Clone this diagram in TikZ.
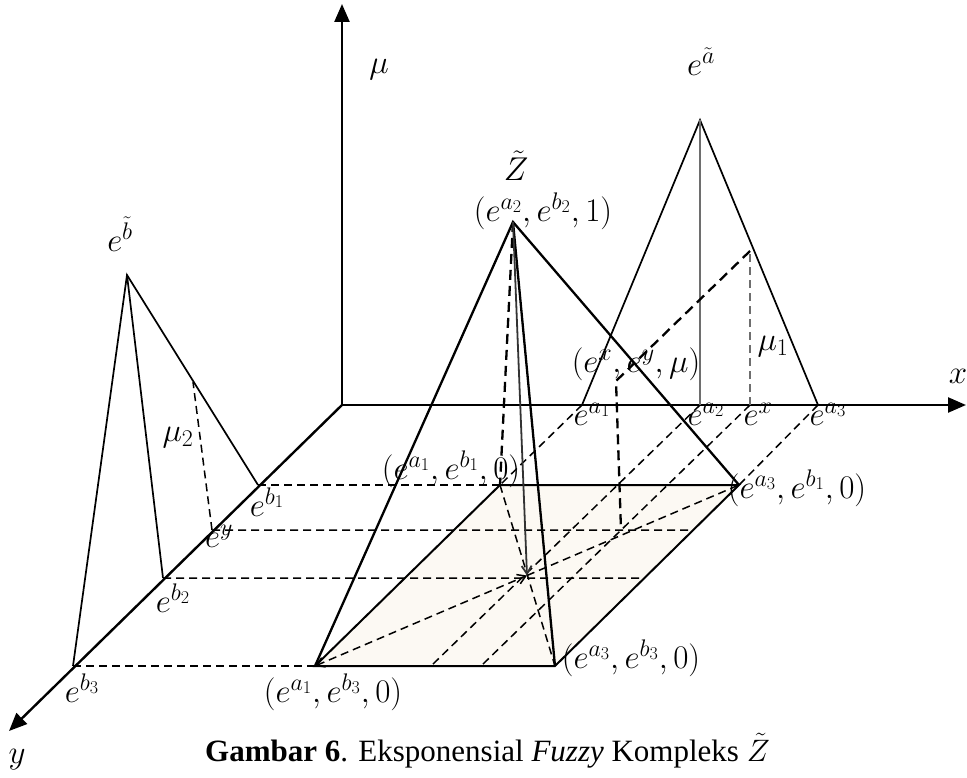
\RequirePackage{fix-cm}
\documentclass[tikz,border=0pt]{standalone}
\usepackage{fontspec}
\setmainfont{Liberation Serif}
\usetikzlibrary{arrows.meta,calc}
\DeclareMathSizes{33}{33}{24}{18}
\DeclareMathSizes{31}{31}{22}{17}
\definecolor{planefill}{HTML}{FCF9F3}
\definecolor{guidegray}{HTML}{6E6E6E}
\definecolor{centerline}{HTML}{333333}

\begin{document}
\begin{tikzpicture}[
    x=1pt, y=-1pt,
    font=\fontsize{33}{38}\selectfont,
    every node/.style={inner sep=0pt},
    coordaxis/.style={line width=2.4pt, -{Triangle[length=18pt,width=15pt]}},
    pyredge/.style={line width=2.3pt},
    planeedge/.style={line width=2pt},
    fuzzyedge/.style={line width=1.7pt},
    guide/.style={dash pattern=on 8pt off 5pt, line width=1.5pt},
    thickguide/.style={dash pattern=on 10pt off 6pt, line width=2.3pt},
    grayguide/.style={dash pattern=on 8pt off 5pt, line width=1.5pt, draw=guidegray},
    barb/.style={-{Straight Barb[length=8pt,width=10pt]}},
    biarrow/.style={{Straight Barb[length=8pt,width=10pt]}-{Straight Barb[length=8pt,width=10pt]}},
]

\useasboundingbox (0,0) rectangle (967,778);

% =============================================================
% POINTS
% =============================================================
\coordinate (O) at (342,405);
\coordinate (muTop) at (342,4);
\coordinate (xTip) at (966,405);
\coordinate (yTip) at (9,731);

% y axis
\coordinate (b1) at (258,485);
\coordinate (ey) at (212,530);
\coordinate (b2) at (163,578);
\coordinate (b3) at (73,666);
\coordinate (bApex) at (127,275);
\coordinate (mu2Top) at (193,382);

% x axis
\coordinate (a1) at (582,405);
\coordinate (a2) at (700,405);
\coordinate (ex) at (750,405);
\coordinate (a3) at (818,405);
\coordinate (aApex) at (700,120);
\coordinate (mu1Top) at (750,251);

% base plane and pyramid
\coordinate (Q11) at (500,485);
\coordinate (Q31) at (739,485);
\coordinate (Q33) at (555,666);
\coordinate (Q13) at (315,666);
\coordinate (C) at (527,575.5);
\coordinate (P) at (513,222);
\coordinate (eyEnd) at ($(Q31)!0.249!(Q33)$);
\coordinate (b2End) at ($(Q31)!0.514!(Q33)$);
\coordinate (a2End) at (431,666);
\coordinate (exEnd) at (481,666);
\coordinate (exy0) at (621,530);
\coordinate (exyMu) at (616,381);

% =============================================================
% BASE PLANE
% =============================================================
\fill[planefill] (Q13) -- (Q11) -- (Q31) -- (Q33) -- cycle;

% guides from the axes
\draw[guide] (b1) -- (Q11);
\draw[guide] (ey) -- (eyEnd);
\draw[guide] (b2) -- (b2End);
\draw[guide] (b3) -- (Q13);
\draw[guide] (a1) -- (Q11);
\draw[guide] (a2) -- (a2End);
\draw[guide] (ex) -- (exEnd);
\draw[guide] (a3) -- (Q31);

% diagonals
\draw[guide, biarrow] (Q13) -- (C);
\draw[guide] (C) -- (Q31);
\draw[guide] (Q11) -- (Q33);

\draw[planeedge] (Q13) -- (Q11) -- (Q31) -- (Q33) -- cycle;

% =============================================================
% AXES
% =============================================================
\draw[coordaxis] (O) -- (muTop);
\draw[coordaxis] (O) -- (xTip);
\draw[coordaxis] (O) -- (yTip);

% =============================================================
% FUZZY NUMBERS ON THE AXES
% =============================================================
\draw[fuzzyedge] (b3) -- (bApex) -- (b1);
\draw[fuzzyedge] (bApex) -- (b2);
\draw[guide] (ey) -- (mu2Top);

\draw[fuzzyedge] (a1) -- (aApex) -- (a3);
\draw[fuzzyedge, draw=guidegray] (aApex) -- (a2);
\draw[grayguide] (ex) -- (mu1Top);

% point (e^x, e^y, mu)
\draw[thickguide] (mu1Top) -- (exyMu) -- (exy0);

% =============================================================
% PYRAMID
% =============================================================
\draw[thickguide] (P) -- (Q11);
\draw[pyredge] (Q13) -- (P) -- (Q31);
\draw[pyredge] (P) -- (Q33);
\draw[line width=1.8pt, draw=centerline, barb] (P) -- (C);

% =============================================================
% LABELS
% =============================================================
\node (muLbl) at (379,70) {$\mu$};
\node (xLbl) at (958,376) {$x$};
\node (yLbl) at (17,760) {$y$};
\node (bLbl) at (120,234) {$e^{\tilde b}$};
\node (aLbl) at (701,62) {$e^{\tilde a}$};
\node (zLbl) at (516,166) {$\tilde Z$};
\node (pLbl) at (543,211) {$(e^{a_2},e^{b_2},1)$};
\node (exyLbl) at (636,364) {$(e^{x},e^{y},\mu)$};
\node (mu1Lbl) at (773,347) {$\mu_1$};
\node (mu2Lbl) at (178,438) {$\mu_2$};

\node (a1Lbl) at (592,414) {$e^{a_1}$};
\node (a2Lbl) at (706,414) {$e^{a_2}$};
\node (exLbl) at (758,414) {$e^{x}$};
\node (a3Lbl) at (828,414) {$e^{a_3}$};

\node (b1Lbl) at (267,502) {$e^{b_1}$};
\node (eyLbl) at (219,536) {$e^{y}$};
\node (b2Lbl) at (173,598) {$e^{b_2}$};
\node (b3Lbl) at (82,688) {$e^{b_3}$};

\node (q11Lbl) at (451,469) {$(e^{a_1},e^{b_1},0)$};
\node (q31Lbl) at (797,488) {$(e^{a_3},e^{b_1},0)$};
\node (q33Lbl) at (631,658) {$(e^{a_3},e^{b_3},0)$};
\node (q13Lbl) at (333,692) {$(e^{a_1},e^{b_3},0)$};

\node[anchor=base west, font=\fontsize{31}{36}\selectfont] (caption) at (205,761)
    {\textbf{Gambar 6}. Eksponensial \textit{Fuzzy} Kompleks $\tilde{Z}$};

\end{tikzpicture}
\end{document}
